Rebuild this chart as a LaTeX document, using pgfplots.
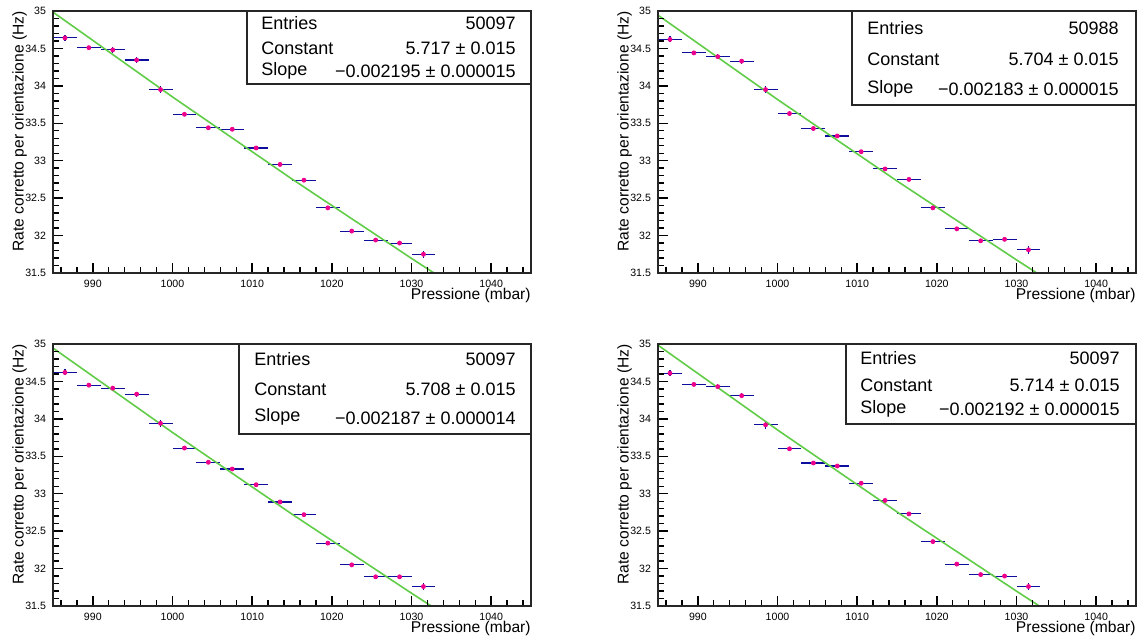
\documentclass[border=0pt]{standalone}
\usepackage{fontspec}
\setmainfont{Liberation Sans}
\usepackage{pgfplots}
\pgfplotsset{compat=1.18}
\usepackage{pgfplotstable}

\definecolor{rootblue}{rgb}{0.05,0.05,0.62}
\definecolor{rootgreen}{rgb}{0.38,0.80,0.28}

% rate per bin (3 mbar wide), errors
\pgfplotstableread{
x y ex ey
986.5 34.64 1.5 0.04
989.5 34.51 1.5 0.02
992.5 34.48 1.5 0.035
995.5 34.345 1.5 0.035
998.5 33.95 1.5 0.05
1001.5 33.62 1.5 0.02
1004.5 33.44 1.5 0.02
1007.5 33.42 1.5 0.02
1010.5 33.17 1.5 0.02
1013.5 32.95 1.5 0.02
1016.5 32.74 1.5 0.02
1019.5 32.37 1.5 0.02
1022.5 32.06 1.5 0.02
1025.5 31.94 1.5 0.02
1028.5 31.90 1.5 0.02
1031.5 31.75 1.5 0.05
}\tabTL
\pgfplotstableread{
x y ex ey
986.5 34.62 1.5 0.04
989.5 34.44 1.5 0.02
992.5 34.39 1.5 0.035
995.5 34.33 1.5 0.035
998.5 33.95 1.5 0.05
1001.5 33.63 1.5 0.02
1004.5 33.43 1.5 0.02
1007.5 33.33 1.5 0.02
1010.5 33.12 1.5 0.02
1013.5 32.89 1.5 0.02
1016.5 32.75 1.5 0.02
1019.5 32.37 1.5 0.02
1022.5 32.09 1.5 0.02
1025.5 31.93 1.5 0.02
1028.5 31.95 1.5 0.02
1031.5 31.81 1.5 0.05
}\tabTR
\pgfplotstableread{
x y ex ey
986.5 34.62 1.5 0.04
989.5 34.45 1.5 0.02
992.5 34.41 1.5 0.035
995.5 34.33 1.5 0.035
998.5 33.94 1.5 0.05
1001.5 33.61 1.5 0.02
1004.5 33.42 1.5 0.02
1007.5 33.33 1.5 0.02
1010.5 33.12 1.5 0.02
1013.5 32.89 1.5 0.02
1016.5 32.72 1.5 0.02
1019.5 32.34 1.5 0.02
1022.5 32.05 1.5 0.02
1025.5 31.89 1.5 0.02
1028.5 31.89 1.5 0.02
1031.5 31.76 1.5 0.05
}\tabBL
\pgfplotstableread{
x y ex ey
986.5 34.61 1.5 0.04
989.5 34.46 1.5 0.02
992.5 34.43 1.5 0.035
995.5 34.31 1.5 0.035
998.5 33.92 1.5 0.05
1001.5 33.60 1.5 0.02
1004.5 33.41 1.5 0.02
1007.5 33.37 1.5 0.02
1010.5 33.14 1.5 0.02
1013.5 32.91 1.5 0.02
1016.5 32.73 1.5 0.02
1019.5 32.36 1.5 0.02
1022.5 32.06 1.5 0.02
1025.5 31.92 1.5 0.02
1028.5 31.90 1.5 0.02
1031.5 31.76 1.5 0.05
}\tabBR

\pgfplotsset{
  rootpanel/.style={
    width=239pt, height=131pt, scale only axis,
    xmin=985, xmax=1045, ymin=31.5, ymax=35,
    axis on top=true,
    axis line style={black!85, line width=0.6pt},
    tick align=inside, tick pos=left,
    every tick/.style={black, line width=0.7pt},
    major tick length=5pt, minor tick length=2.8pt,
    xtick={990,1000,...,1040}, minor xtick={986,988,...,1044},
    ytick={31.5,32,...,35}, minor ytick={31.6,31.7,...,34.9},
    /pgf/number format/assume math mode=true,
    /pgf/number format/1000 sep={},
    scaled ticks=false,
    ticklabel style={font=\fontsize{5.3}{6}\selectfont},
    xlabel={Pressione (mbar)},
    xlabel style={at={(axis description cs:1,-0.1)}, anchor=base east,
      inner sep=0pt, font=\fontsize{7.8}{9}\selectfont},
    ylabel={Rate corretto per orientazione (Hz)},
    ylabel style={at={(axis description cs:-0.054,1)}, anchor=south east,
      inner sep=0pt, font=\fontsize{7.8}{9}\selectfont},
  },
}

\newcommand{\panel}[3]{%
\begin{axis}[rootpanel, at={#1}, anchor=south west]
  \addplot[only marks, mark=*, mark size=1pt,
    mark options={draw=magenta, fill=magenta},
    error bars/.cd, x dir=both, x explicit, y dir=both, y explicit,
    error mark=none, error bar style={rootblue, line width=0.55pt}]
    table[x=x, y=y, x error=ex, y error=ey] {#2};
  \addplot[rootgreen, line width=0.8pt] coordinates {#3};
\end{axis}
}

\begin{document}
\begin{tikzpicture}
\useasboundingbox (0,0) rectangle (569pt,318.5pt);

\panel{(26.5pt,182pt)}{\tabTL}{(985,34.985) (1000,33.852) (1015,32.755) (1030,31.695) (1035,31.349)}
\panel{(329pt,182pt)}{\tabTR}{(985,34.944) (1000,33.818) (1015,32.729) (1030,31.675) (1035,31.331)}
\panel{(26.5pt,15.5pt)}{\tabBL}{(985,34.946) (1000,33.818) (1015,32.727) (1030,31.671) (1035,31.326)}
\panel{(329pt,15.5pt)}{\tabBR}{(985,34.984) (1000,33.852) (1015,32.757) (1030,31.698) (1035,31.352)}

% statistics boxes, in pixel units measured from the top left
\begin{scope}[x=0.5pt, y=-0.5pt, yshift=318.5pt,
  every node/.style={inner sep=0pt, font=\fontsize{9}{11}\selectfont}]
  \draw[fill=white, draw=black!85, line width=0.6pt] (247,11) rectangle (531,84);
  \node[anchor=base west] at (261,30) {Entries};
  \node[anchor=base west] at (261,55) {Constant};
  \node[anchor=base west] at (261,76) {Slope};
  \node[anchor=base east] at (516,30) {50097};
  \node[anchor=base east] at (516,55) {5.717 ± 0.015};
  \node[anchor=base east] at (516,77.5) {−0.002195 ± 0.000015};

  \draw[fill=white, draw=black!85, line width=0.6pt] (852,11) rectangle (1136,105);
  \node[anchor=base west] at (867,34.3) {Entries};
  \node[anchor=base west] at (867,65.7) {Constant};
  \node[anchor=base west] at (867,93.5) {Slope};
  \node[anchor=base east] at (1119,34.3) {50988};
  \node[anchor=base east] at (1119,65.7) {5.704 ± 0.015};
  \node[anchor=base east] at (1119,96) {−0.002183 ± 0.000015};

  \draw[fill=white, draw=black!85, line width=0.6pt] (239,344) rectangle (531,434);
  \node[anchor=base west] at (254,366) {Entries};
  \node[anchor=base west] at (254,395) {Constant};
  \node[anchor=base west] at (254,422) {Slope};
  \node[anchor=base east] at (516,366) {50097};
  \node[anchor=base east] at (516,395) {5.708 ± 0.015};
  \node[anchor=base east] at (516,424) {−0.002187 ± 0.000014};

  \draw[fill=white, draw=black!85, line width=0.6pt] (846,344) rectangle (1136,424);
  \node[anchor=base west] at (860,365) {Entries};
  \node[anchor=base west] at (860,391.7) {Constant};
  \node[anchor=base west] at (860,414) {Slope};
  \node[anchor=base east] at (1120,365) {50097};
  \node[anchor=base east] at (1120,391.7) {5.714 ± 0.015};
  \node[anchor=base east] at (1120,416) {−0.002192 ± 0.000015};
\end{scope}
\end{tikzpicture}
\end{document}
